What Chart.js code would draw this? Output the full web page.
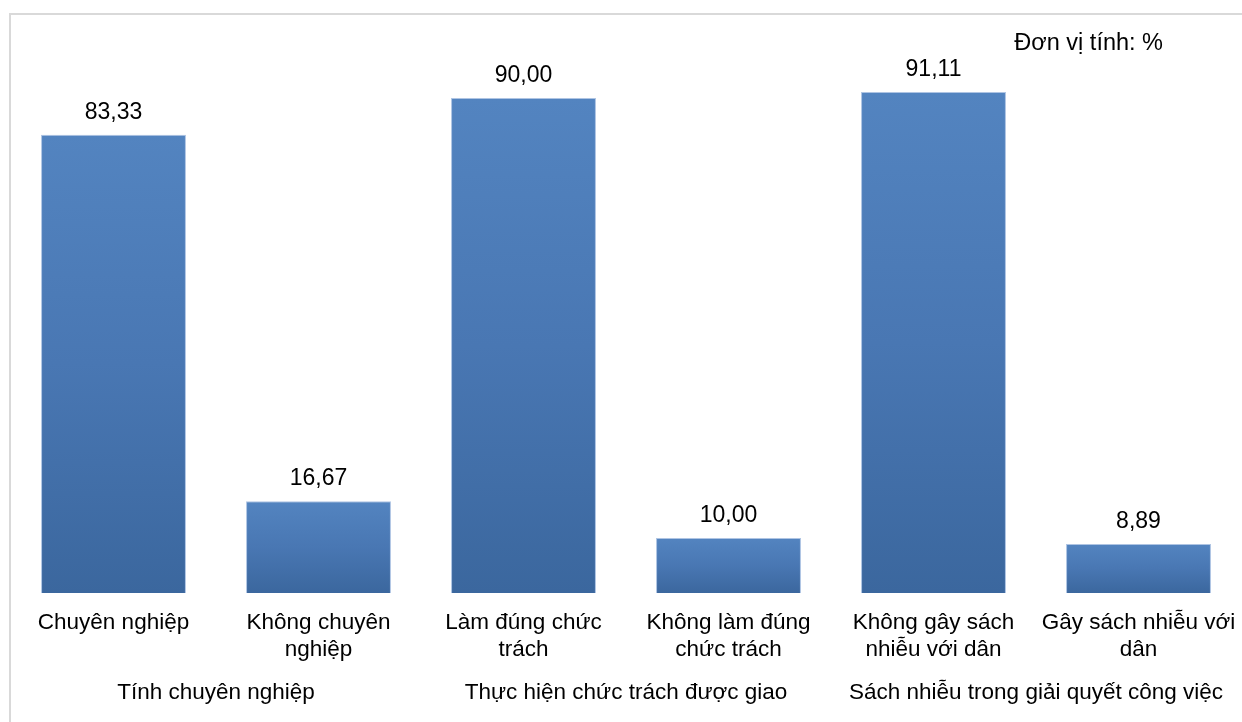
<!DOCTYPE html>
<html lang="vi">
<head>
<meta charset="utf-8">
<title>Đánh giá cán bộ</title>
<script src="https://cdn.jsdelivr.net/npm/chart.js@4/dist/chart.umd.min.js"></script>
<style>
  html, body { margin: 0; padding: 0; background: #ffffff; }
  #wrap { position: relative; width: 1242px; height: 722px; overflow: hidden; }
  #frame {
    position: absolute; left: 9px; top: 13px; width: 1260px; height: 740px;
    border: 2px solid #d9d9d9; box-sizing: border-box;
  }
  #chart { position: absolute; left: 0; top: 0; }
</style>
</head>
<body>
<div id="wrap">
  <div id="frame"></div>
  <canvas id="chart" width="1242" height="722"></canvas>
</div>
<script>
// Nhãn từng cột (xuống dòng như trên trục)
const categories = [
  ['Chuyên nghiệp'],
  ['Không chuyên', 'nghiệp'],
  ['Làm đúng chức', 'trách'],
  ['Không làm đúng', 'chức trách'],
  ['Không gây sách', 'nhiễu với dân'],
  ['Gây sách nhiễu với', 'dân']
];
// Nhóm tiêu chí, mỗi nhóm gồm hai cột
const groups = [
  'Tính chuyên nghiệp',
  'Thực hiện chức trách được giao',
  'Sách nhiễu trong giải quyết công việc'
];
// Tỷ lệ (%)
const values = [83.33, 16.67, 90.00, 10.00, 91.11, 8.89];
const unitText = 'Đơn vị tính: %';

const FONT = "'Liberation Sans', Arial, sans-serif";

function barGradient(context) {
  const chart = context.chart;
  const area = chart.chartArea;
  if (!area || context.type !== 'data') return '#4a79b4';
  const yScale = chart.scales.y;
  const top = yScale.getPixelForValue(context.parsed.y);
  const base = yScale.getPixelForValue(0);
  const g = chart.ctx.createLinearGradient(0, top, 0, base);
  g.addColorStop(0, '#5384c0');
  g.addColorStop(0.5, '#4977b3');
  g.addColorStop(1, '#3b679e');
  return g;
}

// Giá trị trên đầu cột và ghi chú đơn vị
const labelsPlugin = {
  id: 'valueLabels',
  afterDatasetsDraw(chart) {
    const ctx = chart.ctx;
    ctx.save();
    ctx.font = '23px ' + FONT;
    ctx.fillStyle = '#000000';
    ctx.textAlign = 'center';
    ctx.textBaseline = 'alphabetic';
    const meta = chart.getDatasetMeta(0);
    meta.data.forEach((bar, i) => {
      const txt = values[i].toFixed(2).replace('.', ',');
      ctx.fillText(txt, bar.x, bar.y - 16);
    });
    ctx.font = '23.5px ' + FONT;
    ctx.textAlign = 'right';
    ctx.fillText(unitText, 1163, 50);
    ctx.restore();
  }
};

// Không để nhãn trục đẩy vùng vẽ vào trong
function fixAxis(height) {
  return function (scale) {
    scale.height = height;
    scale.paddingLeft = 0;
    scale.paddingRight = 0;
  };
}

new Chart(document.getElementById('chart'), {
  type: 'bar',
  data: {
    labels: categories,
    datasets: [{
      data: values,
      backgroundColor: barGradient,
      borderColor: 'rgba(130,165,212,0.65)',
      borderWidth: 1,
      categoryPercentage: 1.0,
      barPercentage: 0.707
    }]
  },
  options: {
    responsive: false,
    animation: false,
    events: [],
    layout: { padding: { left: 11, right: 1, top: 43, bottom: 0 } },
    plugins: {
      legend: { display: false },
      tooltip: { enabled: false }
    },
    scales: {
      y: { display: false, min: 0, max: 100 },
      x: {
        position: 'bottom',
        grid: { display: false, drawTicks: false },
        border: { display: false },
        ticks: {
          color: '#000000',
          font: { family: FONT, size: 22.5 },
          padding: 16,
          maxRotation: 0,
          autoSkip: false
        },
        afterFit: fixAxis(80)
      },
      x2: {
        type: 'category',
        labels: groups,
        position: 'bottom',
        offset: true,
        grid: { display: false, drawTicks: false },
        border: { display: false },
        ticks: {
          color: '#000000',
          font: { family: FONT, size: 22.5 },
          padding: 6,
          maxRotation: 0,
          autoSkip: false
        },
        afterFit: fixAxis(49)
      }
    }
  },
  plugins: [labelsPlugin]
});
</script>
</body>
</html>
